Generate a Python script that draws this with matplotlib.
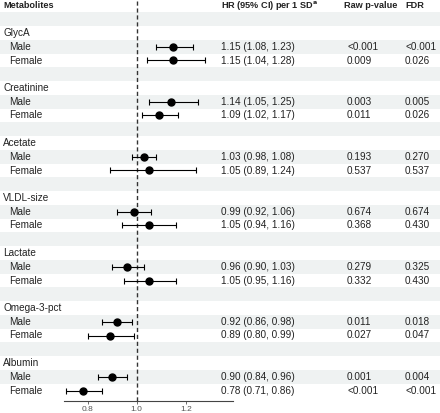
import numpy as np
import matplotlib
matplotlib.use("Agg")
import matplotlib.pyplot as plt

plt.rcParams['font.family'] = ['Liberation Sans', 'DejaVu Sans']

# data
metabolites = ['GlycA', 'Creatinine', 'Acetate', 'VLDL-size', 'Lactate', 'Omega-3-pct', 'Albumin']
hr_male = [1.15, 1.14, 1.03, 0.99, 0.96, 0.92, 0.90]
lo_male = [1.08, 1.05, 0.98, 0.92, 0.90, 0.86, 0.84]
hi_male = [1.23, 1.25, 1.08, 1.06, 1.03, 0.98, 0.96]
hr_female = [1.15, 1.09, 1.05, 1.05, 1.05, 0.89, 0.78]
lo_female = [1.04, 1.02, 0.89, 0.94, 0.95, 0.80, 0.71]
hi_female = [1.28, 1.17, 1.24, 1.16, 1.16, 0.99, 0.86]
p_male = ['<0.001', '0.003', '0.193', '0.674', '0.279', '0.011', '0.001']
p_female = ['0.009', '0.011', '0.537', '0.368', '0.332', '0.027', '<0.001']
fdr_male = ['<0.001', '0.005', '0.270', '0.674', '0.325', '0.018', '0.004']
fdr_female = ['0.026', '0.026', '0.537', '0.430', '0.430', '0.047', '<0.001']

W, H = 440, 413
row_h = 13.75
y0 = 5.5
n_rows = 1 + 4 * len(metabolites)

fig = plt.figure(figsize=(W / 100, H / 100), dpi=100)

# background axes: whole figure, x in pixels, y in rows
bg = fig.add_axes([0, 0, 1, 1])
bg.set_xlim(0, W)
bg.set_ylim((H - y0) / row_h, -y0 / row_h)
bg.axis('off')

shade = '#eff2f2'
for r in range(1, n_rows, 2):
    bg.axhspan(r - 0.5, r + 0.5, color=shade, lw=0, zorder=0)

fs = 7.2
hfs = 6.6
txt = '#222222'
bg.text(3, 0, 'Metabolites', fontsize=hfs, fontweight='bold', va='center', color=txt)
bg.text(221, 0, r'HR (95% CI) per 1 SD$^{\mathbf{a}}$', fontsize=hfs, fontweight='bold', va='center', color=txt)
bg.text(344, 0, 'Raw p-value', fontsize=hfs, fontweight='bold', va='center', color=txt)
bg.text(405, 0, 'FDR', fontsize=hfs, fontweight='bold', va='center', color=txt)

for i, name in enumerate(metabolites):
    r = 2 + 4 * i
    bg.text(3, r, name, fontsize=fs, va='center', color=txt)
    for k, (sex, hr, lo, hi, p, q) in enumerate([
            ('Male', hr_male[i], lo_male[i], hi_male[i], p_male[i], fdr_male[i]),
            ('Female', hr_female[i], lo_female[i], hi_female[i], p_female[i], fdr_female[i])]):
        rr = r + 1 + k
        bg.text(9, rr, sex, fontsize=fs, va='center', color=txt)
        bg.text(221, rr, f'{hr:.2f} ({lo:.2f}, {hi:.2f})', fontsize=fs, va='center', color=txt)
        bg.text(347, rr, p, fontsize=fs, va='center', color=txt)
        bg.text(405, rr, q, fontsize=fs, va='center', color=txt)

# forest axes
x_left, x_right = 64, 233
axis_y = 400.7
ax = fig.add_axes([x_left / W, (H - axis_y) / H, (x_right - x_left) / W, axis_y / H])
ax.patch.set_alpha(0)
ax.set_xlim(0.703, 1.393)
ax.set_ylim((axis_y - y0) / row_h, -y0 / row_h)

rows_m = [3 + 4 * i for i in range(len(metabolites))]
rows_f = [4 + 4 * i for i in range(len(metabolites))]
hr = np.array(hr_male + hr_female)
lo = np.array(lo_male + lo_female)
hi = np.array(hi_male + hi_female)
rows = rows_m + rows_f
ax.errorbar(hr, rows, xerr=[hr - lo, hi - hr], fmt='o', color='black', ms=5,
            elinewidth=0.8, capsize=2.3, capthick=0.8, zorder=3)
ax.axvline(1.0, color='#333333', ls=(0, (3, 2)), lw=1, zorder=2)

for s in ['top', 'right', 'left']:
    ax.spines[s].set_visible(False)
ax.spines['bottom'].set_color('#444444')
ax.spines['bottom'].set_linewidth(0.8)
ax.set_yticks([])
ax.set_xticks([0.8, 1.0, 1.2])
ax.set_xticklabels(['0.8', '1.0', '1.2'])
ax.tick_params(axis='x', labelsize=6, colors='#555555', length=2.5, width=0.6, pad=1.5)

fig.savefig('out.png', dpi=100)
